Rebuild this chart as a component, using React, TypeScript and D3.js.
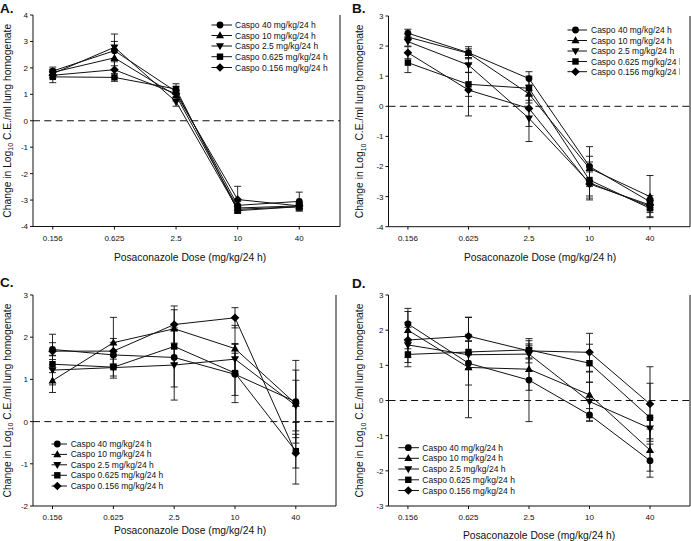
import React from "react";
import * as d3 from "d3";

const doses = [0.156, 0.625, 2.5, 10, 40];
const doseLabels = ["0.156", "0.625", "2.5", "10", "40"];
const seriesLabels = [
  "Caspo 40 mg/kg/24 h",
  "Caspo 10 mg/kg/24 h",
  "Caspo 2.5 mg/kg/24 h",
  "Caspo 0.625 mg/kg/24 h",
  "Caspo 0.156 mg/kg/24 h",
];
const seriesSymbols = ["circle", "triangleUp", "triangleDown", "square", "diamond"];

// Panel A (series order: 40, 10, 2.5, 0.625, 0.156)
const meansA = [
  [1.88, 2.65, 1.1, -3.2, -3.05],
  [1.83, 2.38, 0.95, -3.3, -3.22],
  [1.78, 2.78, 0.72, -3.35, -3.25],
  [1.66, 1.64, 1.2, -3.4, -3.25],
  [1.72, 1.93, 1.02, -2.98, -3.22],
];
const errsA = [
  [0.15, 0.35, 0.2, 0.15, 0.35],
  [0.12, 0.3, 0.2, 0.1, 0.1],
  [0.15, 0.5, 0.17, 0.1, 0.1],
  [0.22, 0.15, 0.2, 0.1, 0.17],
  [0.1, 0.3, 0.15, 0.5, 0.15],
];
// Panel B
const meansB = [
  [2.43, 1.78, 0.92, -2.0, -3.17],
  [2.3, 1.76, 0.41, -2.06, -3.0],
  [2.15, 1.37, -0.4, -2.54, -3.33],
  [1.45, 0.73, 0.6, -2.45, -3.39],
  [1.78, 0.54, -0.07, -2.58, -3.28],
];
const errsB = [
  [0.13, 0.2, 0.23, 0.66, 0.2],
  [0.1, 0.15, 0.3, 0.4, 0.7],
  [0.15, 0.25, 0.77, 0.57, 0.2],
  [0.33, 0.4, 0.4, 0.6, 0.28],
  [0.2, 0.86, 0.6, 0.4, 0.15],
];
// Panel C
const meansC = [
  [1.71, 1.58, 1.52, 1.12, 0.47],
  [0.97, 1.87, 2.2, 1.73, 0.42],
  [1.22, 1.28, 1.34, 1.48, 0.38],
  [1.36, 1.29, 1.78, 1.15, -0.7],
  [1.67, 1.67, 2.3, 2.46, -0.75],
];
const errsC = [
  [0.36, 0.3, 0.7, 0.5, 0.98],
  [0.28, 0.6, 0.45, 0.55, 0.8],
  [0.35, 0.2, 0.83, 0.35, 0.6],
  [0.2, 0.26, 0.4, 0.7, 0.4],
  [0.2, 0.3, 0.44, 0.24, 0.73],
];
// Panel D
const meansD = [
  [2.18, 1.06, 0.58, -0.41, -1.71],
  [2.0, 0.94, 0.89, 0.16, -1.41],
  [1.58, 1.3, 1.32, -0.03, -0.79],
  [1.31, 1.38, 1.44, 1.06, -0.49],
  [1.72, 1.83, 1.41, 1.37, -0.1],
];
const errsD = [
  [0.44, 0.62, 1.18, 0.18, 0.47],
  [0.53, 1.43, 0.6, 0.65, 0.6],
  [0.5, 0.4, 0.25, 0.55, 0.3],
  [0.35, 0.5, 0.26, 0.54, 0.98],
  [0.5, 0.53, 0.2, 0.54, 1.06],
];

const yDomainA = [-4, 4];
const yDomainB = [-4, 3];
const yDomainC = [-2, 3];
const yDomainD = [-3, 3];

const FONT = "Arial, 'Liberation Sans', sans-serif";
const INK = "#111";

type PanelCfg = {
  id: string;
  letter: string;
  means: number[][];
  errs: number[][];
  yDomain: number[];
  l: number; r: number; t: number; b: number;
  letterX: number; letterY: number;
  yLabelX: number;
  xLabelX: number; xLabelY: number;
  tickLabelY: number;
  legX0: number; legX1: number; legXm: number; legXt: number; legYs: number[];
  legClip?: number;
};

const panels: PanelCfg[] = [
  {
    id: "A", letter: "A.", means: meansA, errs: errsA, yDomain: yDomainA,
    l: 33, r: 340, t: 15, b: 226.5,
    letterX: 0, letterY: 13, yLabelX: 10.5, xLabelX: 190, xLabelY: 261,
    tickLabelY: 241,
    legX0: 211.5, legX1: 232, legXm: 220, legXt: 235, legYs: [25, 35.5, 46, 56.7, 67.5],
  },
  {
    id: "B", letter: "B.", means: meansB, errs: errsB, yDomain: yDomainB,
    l: 388.5, r: 690, t: 16, b: 226.7,
    letterX: 352, letterY: 12.5, yLabelX: 363, xLabelX: 540, xLabelY: 261,
    tickLabelY: 241,
    legX0: 567.5, legX1: 587, legXm: 575.5, legXt: 591, legYs: [30, 40.5, 51, 61.5, 71.7],
    legClip: 680,
  },
  {
    id: "C", letter: "C.", means: meansC, errs: errsC, yDomain: yDomainC,
    l: 33, r: 336, t: 295, b: 506,
    letterX: 0, letterY: 287, yLabelX: 10.5, xLabelX: 190, xLabelY: 534,
    tickLabelY: 519.5,
    legX0: 51.5, legX1: 67, legXm: 57.3, legXt: 70.7, legYs: [444, 454.4, 464.8, 475.3, 486],
  },
  {
    id: "D", letter: "D.", means: meansD, errs: errsD, yDomain: yDomainD,
    l: 388.5, r: 690, t: 295, b: 506,
    letterX: 352, letterY: 288, yLabelX: 363, xLabelX: 539, xLabelY: 539,
    tickLabelY: 519.5,
    legX0: 398.3, legX1: 419, legXm: 408.3, legXt: 422.3, legYs: [447.7, 458.3, 469, 479.8, 490.5],
  },
];

function Marker({ kind, cx, cy }: { kind: string; cx: number; cy: number }) {
  const fill = "#000";
  if (kind === "circle") return <circle cx={cx} cy={cy} r={3.4} fill={fill} />;
  if (kind === "square")
    return <rect x={cx - 3.2} y={cy - 3.2} width={6.4} height={6.4} fill={fill} />;
  let pts: number[][] = [];
  if (kind === "triangleUp") pts = [[0, -4.2], [4, 2.8], [-4, 2.8]];
  if (kind === "triangleDown") pts = [[0, 4.2], [4, -2.8], [-4, -2.8]];
  if (kind === "diamond") pts = [[0, -4.3], [4.3, 0], [0, 4.3], [-4.3, 0]];
  return (
    <polygon points={pts.map((p) => `${cx + p[0]},${cy + p[1]}`).join(" ")} fill={fill} />
  );
}

function Panel({ p }: { p: PanelCfg }) {
  const x = d3.scaleLog().domain([0.1, 100]).range([p.l, p.r]);
  const y = d3.scaleLinear().domain(p.yDomain).range([p.b, p.t]);
  const yTicks = d3.range(p.yDomain[0], p.yDomain[1] + 1, 1);
  const line = d3
    .line<number>()
    .x((_, i) => x(doses[i]))
    .y((v) => y(v));
  const capW = 3.5;
  const yMid = (p.t + p.b) / 2;

  return (
    <g>
      <text x={p.letterX} y={p.letterY} fontFamily={FONT} fontWeight="bold" fontSize={13.5} fill={INK}>
        {p.letter}
      </text>
      <line x1={p.l} x2={p.l} y1={p.t} y2={p.b} stroke={INK} strokeWidth={1} />
      <line x1={p.l} x2={p.r} y1={p.b} y2={p.b} stroke={INK} strokeWidth={1} />
      <line x1={p.r} x2={p.r} y1={p.t} y2={p.b} stroke={INK} strokeWidth={1} />
      {yTicks.map((v) => (
        <g key={"yt" + v}>
          <line x1={p.l - 3} x2={p.l} y1={y(v)} y2={y(v)} stroke={INK} strokeWidth={1} />
          <text x={p.l - 5} y={y(v) + 2.9} textAnchor="end" fontFamily={FONT} fontSize={8} fill={INK}>
            {v}
          </text>
        </g>
      ))}
      {doses.map((d, i) => (
        <g key={"xt" + d}>
          <line x1={x(d)} x2={x(d)} y1={p.b} y2={p.b + 3} stroke={INK} strokeWidth={1} />
          <text x={x(d)} y={p.tickLabelY} textAnchor="middle" fontFamily={FONT} fontSize={8} fill={INK}>
            {doseLabels[i]}
          </text>
        </g>
      ))}
      <line x1={p.l} x2={p.r} y1={y(0)} y2={y(0)} stroke={INK} strokeWidth={1} strokeDasharray="7,4.3" />
      <text x={p.xLabelX} y={p.xLabelY} textAnchor="middle" fontFamily={FONT} fontSize={10.3} fill={INK}>
        Posaconazole Dose (mg/kg/24 h)
      </text>
      <text
        transform={`translate(${p.yLabelX},${yMid}) rotate(-90)`}
        textAnchor="middle"
        fontFamily={FONT}
        fontSize={10.3}
        fill={INK}
      >
        Change in Log
        <tspan fontSize={7} dy={2.5}>10</tspan>
        <tspan dy={-2.5}> C.E./ml lung homogenate</tspan>
      </text>
      {p.means.map((row, s) =>
        row.map((v, i) => {
          const e = p.errs[s][i];
          const cx = x(doses[i]);
          return (
            <g key={`e${s}-${i}`} stroke={INK} strokeWidth={0.9}>
              <line x1={cx} x2={cx} y1={y(v - e)} y2={y(v + e)} />
              <line x1={cx - capW} x2={cx + capW} y1={y(v + e)} y2={y(v + e)} />
              <line x1={cx - capW} x2={cx + capW} y1={y(v - e)} y2={y(v - e)} />
            </g>
          );
        })
      )}
      {p.means.map((row, s) => (
        <path key={"l" + s} d={line(row) || ""} fill="none" stroke={INK} strokeWidth={1} />
      ))}
      {p.means.map((row, s) =>
        row.map((v, i) => (
          <Marker key={`m${s}-${i}`} kind={seriesSymbols[s]} cx={x(doses[i])} cy={y(v)} />
        ))
      )}
      {p.legClip !== undefined && (
        <defs>
          <clipPath id={"clip" + p.id}>
            <rect x={0} y={0} width={p.legClip} height={541} />
          </clipPath>
        </defs>
      )}
      <g clipPath={p.legClip !== undefined ? `url(#clip${p.id})` : undefined}>
        {seriesLabels.map((lab, s) => (
          <g key={"lg" + s}>
            <line x1={p.legX0} x2={p.legX1} y1={p.legYs[s]} y2={p.legYs[s]} stroke={INK} strokeWidth={1} />
            <Marker kind={seriesSymbols[s]} cx={p.legXm} cy={p.legYs[s]} />
            <text x={p.legXt} y={p.legYs[s] + 3} fontFamily={FONT} fontSize={8.5} fill={INK}>
              {lab}
            </text>
          </g>
        ))}
      </g>
    </g>
  );
}

export default function App() {
  return (
    <svg
      width={691}
      height={541}
      viewBox="0 0 691 541"
      style={{ position: "absolute", left: 0, top: 0, background: "#fff" }}
    >
      <rect x={0} y={0} width={691} height={541} fill="#fff" />
      {panels.map((p) => (
        <Panel key={p.id} p={p} />
      ))}
    </svg>
  );
}
